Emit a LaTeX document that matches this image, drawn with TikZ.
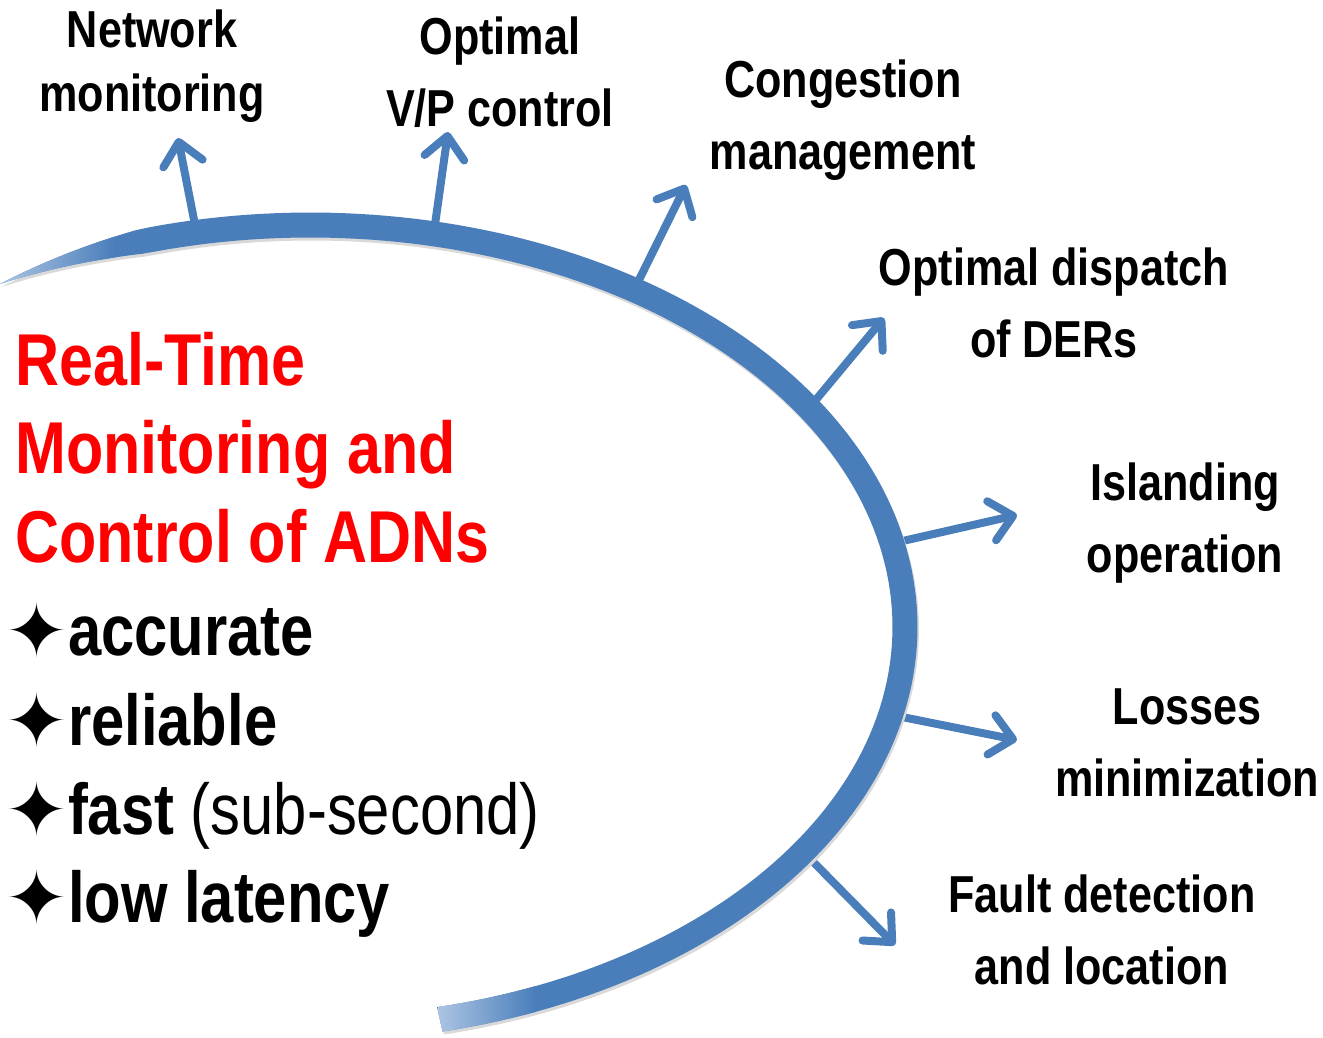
\documentclass[tikz,border=0pt]{standalone}
\usepackage{fontspec}
\setmainfont[FakeStretch=0.83]{Liberation Sans}
\newfontfamily\starfont{DejaVu Sans}
\usetikzlibrary{arrows.meta}
\definecolor{arcblue}{RGB}{74, 126, 187}
\definecolor{arclight}{RGB}{172, 196, 226}
\tikzset{flow/.style = {draw = arcblue, line width = 8pt, line cap = round,
    -{Straight Barb[length = 22pt, width = 40pt, line width = 8pt, round]}}}
\tikzset{task/.style = {align = center, inner sep = 0, font = \bfseries\fontsize{52}{72}\selectfont}}
\tikzset{title/.style = {anchor = base west, inner sep = 0, text = red, font = \bfseries\fontsize{73.5}{88}\selectfont}}
\tikzset{prop/.style = {anchor = base west, inner sep = 0, font = \bfseries\fontsize{72}{88}\selectfont}}
\newcommand{\bstar}{{\starfont\fontsize{75}{88}\selectfont\raisebox{-2pt}{✦}}}

\begin{document}
\begin{tikzpicture}[x = 1pt, y = -1pt,
    declare function = {ex(\ang,\off) = 310 + (595 + \off) * cos(\ang);
                        ey(\ang,\off) = 627 - (402 + \off) * sin(\ang);
                        hw(\ang) = 12.5 * min(1, (121.4 - \ang) / 15);}]
    \useasboundingbox (0, 0) rectangle (1323, 1037);

    \coordinate (a1) at ({ex(101,0)}, {ey(101,0)});
    \coordinate (a2) at ({ex(78,0)}, {ey(78,0)});
    \coordinate (a3) at ({ex(57,0)}, {ey(57,0)});
    \coordinate (a4) at ({ex(33,0)}, {ey(33,0)});
    \coordinate (a5) at ({ex(12,0)}, {ey(12,0)});
    \coordinate (a6) at ({ex(-12.6,0)}, {ey(-12.6,0)});
    \coordinate (a7) at ({ex(-34,0)}, {ey(-34,0)});

    \coordinate (t1) at (178, 138);
    \coordinate (t2) at (448, 132);
    \coordinate (t3) at (686, 185);
    \coordinate (t4) at (884, 318);
    \coordinate (t5) at (1017, 515);
    \coordinate (t6) at (1017, 740);
    \coordinate (t7) at (895, 945);

    \draw [flow] (a1) -- (t1);
    \draw [flow] (a2) -- (t2);
    \draw [flow] (a3) -- (t3);
    \draw [flow] (a4) -- (t4);
    \draw [flow] (a5) -- (t5);
    \draw [flow] (a6) -- (t6);
    \draw [flow] (a7) -- (t7);

    \fill [black!15, shift = {(1.5, 3)}]
      plot [domain = 121.4:-77.4, samples = 150] ({ex(\x,hw(\x))}, {ey(\x,hw(\x))})
      -- plot [domain = -77.4:121.4, samples = 150] ({ex(\x,-hw(\x))}, {ey(\x,-hw(\x))}) -- cycle;
    \begin{scope}
      \path [clip]
        plot [domain = 121.4:-77.4, samples = 150] ({ex(\x,hw(\x))}, {ey(\x,hw(\x))})
        -- plot [domain = -77.4:121.4, samples = 150] ({ex(\x,-hw(\x))}, {ey(\x,-hw(\x))}) -- cycle;
      \fill [arcblue] (0, 0) rectangle (1323, 1037);
      \shade [left color = arclight, right color = arcblue] (0, 200) rectangle (115, 300);
      \shade [left color = arclight, right color = arcblue] (438, 960) rectangle (535, 1040);
    \end{scope}

    \node [task] (netmon) at (152, 66) {Network\\[-8pt]monitoring};
    \node [task] (vpctrl) at (500, 72) {Optimal\\V/P control};
    \node [task] (congest) at (843, 120) {Congestion\\management};
    \node [task] (dispatch) at (1054, 303) {Optimal dispatch\\of DERs};
    \node [task] (island) at (1185, 523) {Islanding\\operation};
    \node [task] (losses) at (1187, 743) {Losses\\minimization};
    \node [task] (fault) at (1102, 930) {Fault detection\\and location};

    \node [title] (rt1) at (15, 385) {Real-Time};
    \node [title] (rt2) at (15, 473) {Monitoring and};
    \node [title] (rt3) at (15, 562) {Control of ADNs};

    \node [prop] (p1) at (5, 655) {\bstar accurate};
    \node [prop] (p2) at (5, 745) {\bstar reliable};
    \node [prop] (p3) at (5, 834) {\bstar fast {\mdseries (sub-second)}};
    \node [prop] (p4) at (5, 922) {\bstar low latency};
  \end{tikzpicture}
\end{document}
